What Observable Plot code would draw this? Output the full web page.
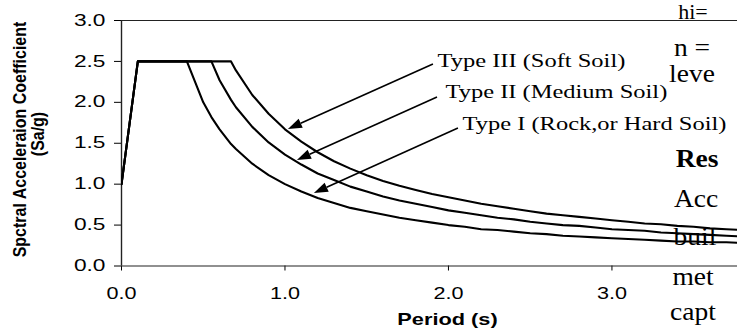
<!DOCTYPE html>
<html>
<head>
<meta charset="utf-8">
<script src="https://cdn.jsdelivr.net/npm/d3@7"></script>
<script src="https://cdn.jsdelivr.net/npm/@observablehq/plot@0.6"></script>
<style>
  body { margin: 0; background: #fff; }
  #chart { width: 737px; height: 329px; overflow: hidden; position: relative; background: #fff; }
</style>
</head>
<body>
<div id="chart"></div>
<script>
// ---- data ----
const periods = [0, 0.1, 0.4, 0.5, 0.55, 0.6, 0.67, 0.7, 0.8, 0.9,
  1.0, 1.1, 1.2, 1.3, 1.4, 1.5, 1.6, 1.7, 1.8, 1.9,
  2.0, 2.1, 2.2, 2.3, 2.4, 2.5, 2.6, 2.7, 2.8, 2.9,
  3.0, 3.1, 3.2, 3.3, 3.4, 3.5, 3.6, 3.7, 3.8, 3.9, 4.0];
const typeI = [1.0, 2.5, 2.5, 2.0, 1.82, 1.67, 1.49, 1.43, 1.25, 1.11,
  1.0, 0.91, 0.83, 0.77, 0.71, 0.67, 0.63, 0.59, 0.56, 0.53,
  0.50, 0.48, 0.45, 0.44, 0.42, 0.40, 0.39, 0.37, 0.36, 0.35,
  0.34, 0.33, 0.32, 0.31, 0.30, 0.30, 0.29, 0.29, 0.28, 0.27, 0.27];
const typeII = [1.0, 2.5, 2.5, 2.5, 2.5, 2.27, 2.03, 1.94, 1.70, 1.51,
  1.36, 1.24, 1.13, 1.05, 0.97, 0.91, 0.85, 0.80, 0.76, 0.72,
  0.68, 0.65, 0.62, 0.59, 0.57, 0.54, 0.52, 0.50, 0.49, 0.47,
  0.45, 0.44, 0.43, 0.41, 0.40, 0.39, 0.38, 0.37, 0.36, 0.35, 0.34];
const typeIII = [1.0, 2.5, 2.5, 2.5, 2.5, 2.5, 2.5, 2.39, 2.09, 1.86,
  1.67, 1.52, 1.39, 1.28, 1.19, 1.11, 1.04, 0.98, 0.93, 0.88,
  0.84, 0.80, 0.76, 0.73, 0.70, 0.67, 0.64, 0.62, 0.60, 0.58,
  0.56, 0.54, 0.52, 0.51, 0.49, 0.48, 0.46, 0.45, 0.44, 0.43, 0.42];
const seriesNames = ["Type I (Rock,or Hard Soil)", "Type II (Medium Soil)", "Type III (Soft Soil)"];
const xTicks = [0, 1, 2, 3];
const yTicks = [0, 0.5, 1.0, 1.5, 2.0, 2.5, 3.0];
const xLabel = "Period (s)";
const yLabelLines = ["Spctral Acceleraion Coefficient", "(Sa/g)"];
// annotation: label anchor (period, Sa/g), arrow start and arrow tip
const labelPos = [[2.086, 1.656], [1.982, 2.048], [1.933, 2.427]];
const arrowFrom = [[2.061, 1.681], [1.933, 2.060], [1.908, 2.463]];
const arrowTo = [[1.180, 0.886], [1.076, 1.290], [1.021, 1.669]];
// surrounding document text fragments visible at the right edge
const docText = ["hi=", "n =", "leve", "Res", "Acc", "buil", "met", "capt"];

// ---- build tables ----
const seriesValues = [typeI, typeII, typeIII];
const rows = [];
seriesValues.forEach((vals, s) => vals.forEach((v, i) => rows.push({type: seriesNames[s], period: periods[i], sa: v})));
const labels = seriesNames.map((n, i) => ({name: n, x: labelPos[i][0], y: labelPos[i][1]}));
const arrows = seriesNames.map((n, i) => ({x1: arrowFrom[i][0], y1: arrowFrom[i][1], x2: arrowTo[i][0], y2: arrowTo[i][1]}));

function arrowMark(index, scales) {
  const g = d3.create("svg:g").attr("aria-label", "arrows");
  for (const a of arrows) {
    const x1 = scales.x(a.x1), y1 = scales.y(a.y1), x2 = scales.x(a.x2), y2 = scales.y(a.y2);
    const ang = Math.atan2(y2 - y1, x2 - x1);
    const L = 14, W = 5;
    const bx = x2 - L * Math.cos(ang), by = y2 - L * Math.sin(ang);
    g.append("line").attr("x1", x1).attr("y1", y1).attr("x2", bx).attr("y2", by)
      .attr("stroke", "#000").attr("stroke-width", 1.6);
    g.append("path")
      .attr("d", `M${x2},${y2}L${bx + W * Math.sin(ang)},${by - W * Math.cos(ang)}L${bx - W * Math.sin(ang)},${by + W * Math.cos(ang)}Z`)
      .attr("fill", "#000");
  }
  return g.node();
}

function layoutText() {
  const g = d3.create("svg:g").attr("aria-label", "titles");
  // y-axis title
  g.append("text").attr("transform", "translate(26,139.5) rotate(-90) scale(1,1.1)")
    .attr("text-anchor", "middle").attr("font-family", "Liberation Sans, Arial, sans-serif")
    .attr("font-weight", "bold").attr("font-size", 16).attr("fill", "#000").text(yLabelLines[0]);
  g.append("text").attr("transform", "translate(44,134) rotate(-90) scale(1,1.1)")
    .attr("text-anchor", "middle").attr("font-family", "Liberation Sans, Arial, sans-serif")
    .attr("font-weight", "bold").attr("font-size", 16).attr("fill", "#000").text(yLabelLines[1]);
  // x-axis title
  g.append("text").attr("transform", "translate(447.5,324.5) scale(1.36,1)")
    .attr("text-anchor", "middle").attr("font-family", "Liberation Sans, Arial, sans-serif")
    .attr("font-weight", "bold").attr("font-size", 16).attr("fill", "#000").text(xLabel);
  // document text fragments
  const docPos = [[693, 19, false, 20], [692, 56, false, 25], [692, 82, false, 25], [697, 167, true, 25],
                  [696, 207, false, 25], [695, 245, false, 25], [693, 285, false, 25], [693, 320, false, 25]];
  docText.forEach((t, i) => {
    g.append("text").attr("transform", `translate(${docPos[i][0]},${docPos[i][1]}) scale(1.1,1)`)
      .attr("font-family", "Liberation Serif, Times New Roman, serif")
      .attr("font-size", docPos[i][3]).attr("font-weight", docPos[i][2] ? "bold" : "normal")
      .attr("fill", "#000").text(t);
  });
  return g.node();
}

const fmt = d3.format(".1f");
const plot = Plot.plot({
  width: 737,
  height: 329,
  marginLeft: 121,
  marginRight: 0,
  marginTop: 20,
  marginBottom: 63.5,
  style: {fontFamily: "Liberation Sans, Arial, sans-serif", fontSize: "16px", color: "#000", background: "#fff"},
  x: {domain: [0, 3.768], ticks: xTicks, tickFormat: fmt, tickSize: 5, tickPadding: 16.5, label: null},
  y: {domain: [0, 3], ticks: yTicks, tickFormat: fmt, tickSize: 7, tickPadding: 9, label: null},
  marks: [
    Plot.ruleY([0, 3], {stroke: "#222", strokeWidth: 1.2}),
    Plot.ruleX([0], {y1: 0, y2: 3, stroke: "#222", strokeWidth: 1.4}),
    Plot.line(rows, {x: "period", y: "sa", z: "type", stroke: "#000", strokeWidth: 2.1, clip: true, curve: "linear"}),
    arrowMark,
    Plot.text(labels, {x: "x", y: "y", text: "name", textAnchor: "start", lineAnchor: "bottom",
      fontFamily: "Liberation Serif, Times New Roman, serif", fontSize: 18, fill: "#000"}),
    layoutText
  ]
});

function stretch(nodes, s) {
  nodes.forEach(n => {
    const t = n.getAttribute("transform") || "";
    n.setAttribute("transform", t + ` scale(${s},1)`);
  });
}
stretch(plot.querySelectorAll('[aria-label="x-axis tick label"] text'), 1.35);
stretch(plot.querySelectorAll('[aria-label="y-axis tick label"] text'), 1.42);
const soilTexts = Array.from(plot.querySelectorAll('text')).filter(t => seriesNames.includes(t.textContent));
stretch(soilTexts, 1.36);

document.getElementById("chart").appendChild(plot);
</script>
</body>
</html>
